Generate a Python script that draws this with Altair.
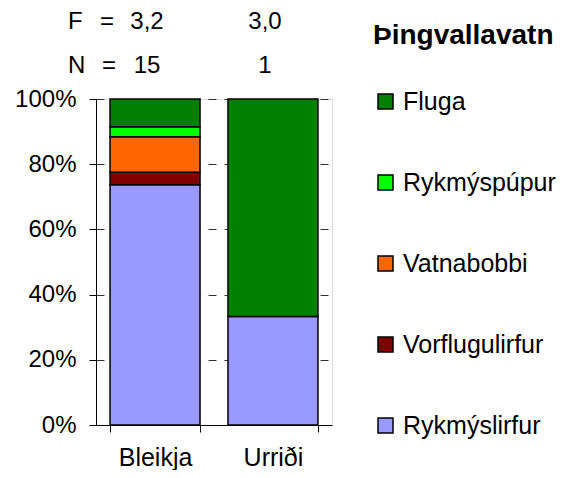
import altair as alt
import pandas as pd

categories = ["Bleikja", "Urriði"]
prey = ["Rykmýslirfur", "Vorflugulirfur", "Vatnabobbi", "Rykmýspúpur", "Fluga"]
bleikja = [73.7, 3.8, 10.9, 3.1, 8.5]
urridi = [33.3, 0.0, 0.0, 0.0, 66.7]
colors = ["#9999FF", "#800000", "#FF6600", "#00FF00", "#008000"]
f_values = ["3,2", "3,0"]
n_values = ["15", "1"]
legend_title = "Þingvallavatn"

FONT = "Liberation Sans"
FS = 24

rows = []
for cat, vals in zip(categories, [bleikja, urridi]):
    for i, (p, v) in enumerate(zip(prey, vals)):
        if v > 0:
            rows.append({"cat": cat, "prey": p, "val": v, "idx": i})
df = pd.DataFrame(rows)

ann = pd.DataFrame({"cat": categories, "F": f_values, "N": n_values})

x_enc = alt.X("cat:N", sort=categories, title=None,
              scale=alt.Scale(paddingInner=0.237, paddingOuter=0.119),
              axis=alt.Axis(labelAngle=0, labelFontSize=25, labelFont=FONT,
                            labelColor="black", labelPadding=13,
                            tickBand="extent", tickSize=7, tickColor="black",
                            domainColor="black", grid=False))

bars = alt.Chart(df).mark_bar(stroke="black", strokeWidth=1.5).encode(
    x=x_enc,
    y=alt.Y("val:Q", stack="normalize", title=None,
            scale=alt.Scale(domain=[0, 1]),
            axis=alt.Axis(values=[0, 0.2, 0.4, 0.6, 0.8, 1.0], format=".0%",
                          labelFontSize=FS, labelFont=FONT, labelColor="black",
                          labelPadding=13, tickSize=7, tickColor="black",
                          domainColor="black", grid=True, gridColor="#333",
                          gridDash=[8, 8], gridWidth=1)),
    color=alt.Color("prey:N",
                    scale=alt.Scale(domain=prey[::-1], range=colors[::-1]),
                    legend=alt.Legend(title=legend_title, orient="none",
                                      legendX=277, legendY=-77,
                                      titleFontSize=28, titleFont=FONT,
                                      titleFontWeight="bold", titleColor="black",
                                      titleLimit=400, labelLimit=400,
                                      labelFontSize=25, labelFont=FONT,
                                      labelColor="black", symbolType="square",
                                      symbolSize=225, symbolStrokeColor="black",
                                      symbolStrokeWidth=1.5, rowPadding=55,
                                      titlePadding=39, labelOffset=5,
                                      symbolOffset=0)),
    order=alt.Order("idx:Q", sort="ascending"),
)

txt = dict(fontSize=FS, font=FONT, color="black", baseline="middle")

base_ann = alt.Chart(ann)
f_text = base_ann.mark_text(dx=-8, **txt).encode(
    x=alt.X("cat:N", sort=categories), y=alt.value(-77), text="F:N")
n_text = base_ann.mark_text(dx=-8, **txt).encode(
    x=alt.X("cat:N", sort=categories), y=alt.value(-33), text="N:N")

lbl = pd.DataFrame({"t": ["F", "N"], "eq": ["=", "="], "r": [0, 1]})
f_lbl = alt.Chart(lbl[lbl.r == 0]).mark_text(align="left", **txt).encode(
    x=alt.value(-28), y=alt.value(-77), text="t:N")
n_lbl = alt.Chart(lbl[lbl.r == 1]).mark_text(align="left", **txt).encode(
    x=alt.value(-28), y=alt.value(-33), text="t:N")
f_eq = alt.Chart(lbl[lbl.r == 0]).mark_text(align="left", **txt).encode(
    x=alt.value(4), y=alt.value(-77), text="eq:N")
n_eq = alt.Chart(lbl[lbl.r == 1]).mark_text(align="left", **txt).encode(
    x=alt.value(6), y=alt.value(-33), text="eq:N")

chart = alt.layer(bars, f_text, n_text, f_lbl, n_lbl, f_eq, n_eq).properties(
    width=236, height=326,
    autosize=alt.AutoSizeParams(type="none"),
    padding={"left": 88, "top": 91, "right": 225, "bottom": 45},
).configure_view(stroke="#666", strokeWidth=1).configure(background="white")

chart.save("out.html", embed_options={"renderer": "svg", "actions": False})
